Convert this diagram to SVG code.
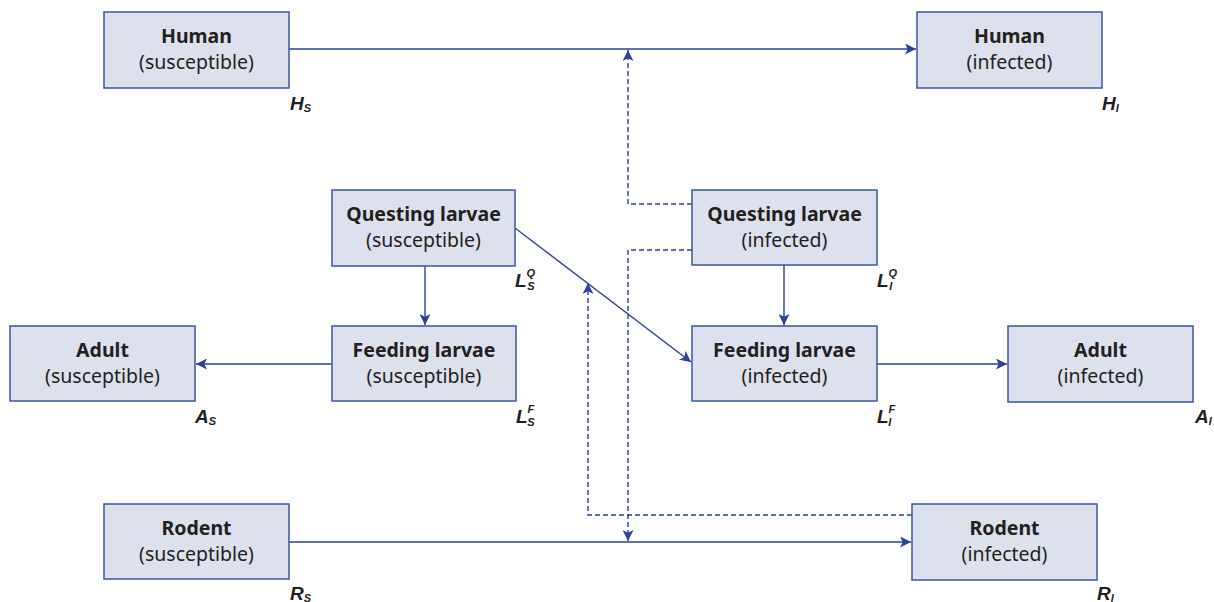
<svg xmlns="http://www.w3.org/2000/svg" width="1214" height="602" viewBox="0 0 1214 602">
<defs>
<style>
.box{fill:#dde1ee;stroke:#3b56a8;stroke-width:1.5}
.t1{font-family:"Noto Sans",sans-serif;font-weight:bold;font-size:19.5px;fill:#231f20;text-anchor:middle}
.t2{font-family:"Noto Sans",sans-serif;font-size:19.5px;fill:#231f20;text-anchor:middle}
.ln{stroke:#2b419e;stroke-width:1.4;fill:none}
.dash{stroke:#2b419e;stroke-width:1.4;fill:none;stroke-dasharray:5,3}
.lab{font-family:"Liberation Sans",Arial,sans-serif;font-weight:bold;font-style:italic;font-size:19px;fill:#231f20}
.sub{font-size:11px}
</style>
<marker id="ah" viewBox="0 0 10 10" refX="10" refY="5" markerWidth="11" markerHeight="11" markerUnits="userSpaceOnUse" orient="auto">
<path d="M0,0 L10,5 L0,10 L2.5,5 Z" fill="#2b419e"/>
</marker>
</defs>
<g id="connectors">
<line class="ln" x1="289" y1="49" x2="916" y2="49" marker-end="url(#ah)"/>
<line class="ln" x1="289" y1="542" x2="911" y2="542" marker-end="url(#ah)"/>
<line class="ln" x1="425" y1="266" x2="425" y2="325" marker-end="url(#ah)"/>
<line class="ln" x1="784" y1="265" x2="784" y2="325" marker-end="url(#ah)"/>
<line class="ln" x1="332" y1="364" x2="196" y2="364" marker-end="url(#ah)"/>
<line class="ln" x1="877" y1="364" x2="1007" y2="364" marker-end="url(#ah)"/>
<line class="ln" x1="515" y1="228" x2="691" y2="362" marker-end="url(#ah)"/>
<polyline class="dash" points="692,204 628,204 628,50" marker-end="url(#ah)"/>
<polyline class="dash" points="692,250 628,250 628,541" marker-end="url(#ah)"/>
<polyline class="dash" points="912,515 588,515 588,283" marker-end="url(#ah)"/>
</g>
<g id="human-s"><rect class="box" x="104" y="12" width="185" height="76"/><text class="t1" x="196.5" y="43">Human</text><text class="t2" x="196.5" y="69">(susceptible)</text>
<text class="lab" x="290" y="110">H<tspan class="sub" dy="2">S</tspan></text></g>
<g id="human-i"><rect class="box" x="917" y="12" width="185" height="76"/><text class="t1" x="1009.5" y="43">Human</text><text class="t2" x="1009.5" y="69">(infected)</text>
<text class="lab" x="1102" y="110">H<tspan class="sub" dy="2">I</tspan></text></g>
<g id="ql-s"><rect class="box" x="332" y="190" width="183" height="76"/><text class="t1" x="423.5" y="221">Questing larvae</text><text class="t2" x="423.5" y="247">(susceptible)</text>
<text class="lab" x="515" y="287">L<tspan class="sub" dx="0" dy="-10">Q</tspan><tspan class="sub" dx="-8" dy="13">S</tspan></text></g>
<g id="ql-i"><rect class="box" x="692" y="190" width="185" height="75"/><text class="t1" x="784.5" y="221">Questing larvae</text><text class="t2" x="784.5" y="247">(infected)</text>
<text class="lab" x="877" y="287">L<tspan class="sub" dy="-10">Q</tspan><tspan class="sub" dx="-8" dy="13">I</tspan></text></g>
<g id="fl-s"><rect class="box" x="332" y="326" width="184" height="75"/><text class="t1" x="424" y="357">Feeding larvae</text><text class="t2" x="424" y="383">(susceptible)</text>
<text class="lab" x="516" y="423">L<tspan class="sub" dy="-10">F</tspan><tspan class="sub" dx="-7" dy="13">S</tspan></text></g>
<g id="fl-i"><rect class="box" x="692" y="326" width="185" height="75"/><text class="t1" x="784.5" y="357">Feeding larvae</text><text class="t2" x="784.5" y="383">(infected)</text>
<text class="lab" x="877" y="423">L<tspan class="sub" dy="-10">F</tspan><tspan class="sub" dx="-7" dy="13">I</tspan></text></g>
<g id="adult-s"><rect class="box" x="10" y="326" width="185" height="75"/><text class="t1" x="102.5" y="357">Adult</text><text class="t2" x="102.5" y="383">(susceptible)</text>
<text class="lab" x="195" y="423">A<tspan class="sub" dy="2">S</tspan></text></g>
<g id="adult-i"><rect class="box" x="1008" y="326" width="185" height="76"/><text class="t1" x="1100.5" y="357">Adult</text><text class="t2" x="1100.5" y="383">(infected)</text>
<text class="lab" x="1195" y="423">A<tspan class="sub" dy="2">I</tspan></text></g>
<g id="rodent-s"><rect class="box" x="104" y="504" width="185" height="75"/><text class="t1" x="196.5" y="535">Rodent</text><text class="t2" x="196.5" y="561">(susceptible)</text>
<text class="lab" x="290" y="600">R<tspan class="sub" dy="2">S</tspan></text></g>
<g id="rodent-i"><rect class="box" x="912" y="504" width="185" height="76"/><text class="t1" x="1004.5" y="535">Rodent</text><text class="t2" x="1004.5" y="561">(infected)</text>
<text class="lab" x="1097" y="600">R<tspan class="sub" dy="2">I</tspan></text></g>
</svg>
